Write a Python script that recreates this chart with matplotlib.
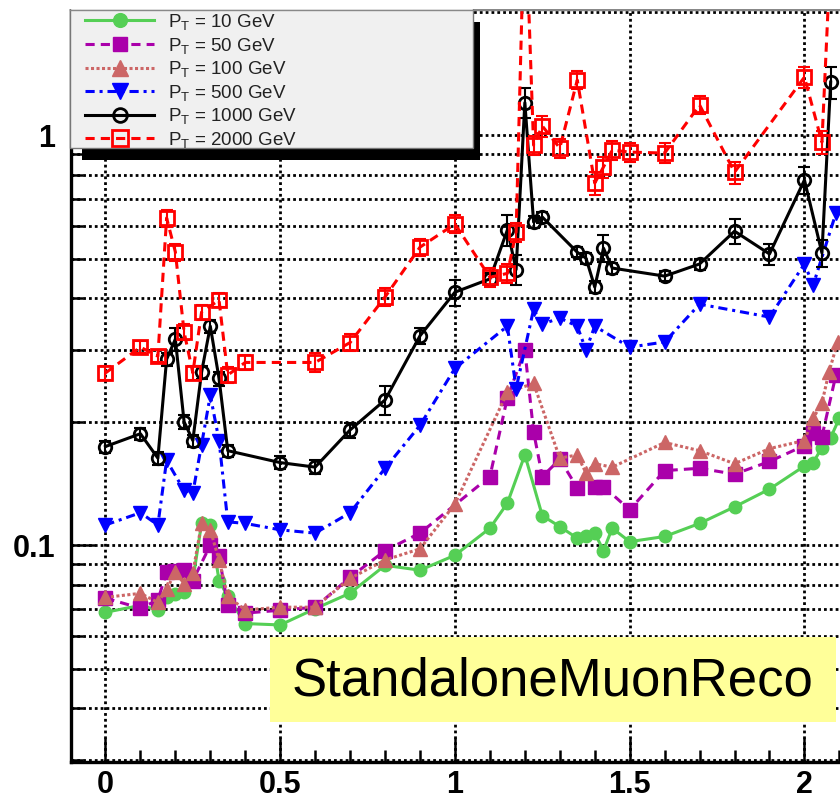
"""
Standalone muon reco: resolution vs eta for several PT values
"""

import matplotlib
matplotlib.use("Agg")
import matplotlib.pyplot as plt
from matplotlib.patches import Rectangle
from matplotlib.lines import Line2D
from matplotlib.ticker import FixedLocator, NullFormatter

plt.rcParams["font.family"] = ["Liberation Sans", "DejaVu Sans"]
plt.rcParams["mathtext.fontset"] = "custom"
plt.rcParams["mathtext.rm"] = "Liberation Sans"
plt.rcParams["mathtext.it"] = "Liberation Sans"

W, H = 840, 801

# ---- data ----
x_10 = [0, 0.1, 0.15, 0.175, 0.2, 0.225, 0.25, 0.275, 0.3, 0.325, 0.35, 0.4, 0.5, 0.6,
        0.7, 0.8, 0.9, 1.0, 1.1, 1.15, 1.2, 1.25, 1.3, 1.35, 1.375, 1.4, 1.425, 1.45,
        1.5, 1.6, 1.7, 1.8, 1.9, 2.0, 2.025, 2.05, 2.075, 2.1]
y_10 = [0.0686, 0.0713, 0.0695, 0.0746, 0.0760, 0.0770, 0.082, 0.113, 0.112, 0.082,
        0.075, 0.0644, 0.0639, 0.070, 0.0764, 0.0893, 0.0869, 0.0945, 0.110, 0.1266,
        0.166, 0.118, 0.111, 0.104, 0.105, 0.107, 0.097, 0.110, 0.102, 0.105, 0.113,
        0.124, 0.137, 0.156, 0.159, 0.173, 0.183, 0.204]

x_50 = [0, 0.1, 0.15, 0.175, 0.2, 0.225, 0.25, 0.3, 0.325, 0.35, 0.4, 0.5, 0.6, 0.7,
        0.8, 0.9, 1.1, 1.15, 1.2, 1.225, 1.25, 1.3, 1.35, 1.4, 1.425, 1.5, 1.6, 1.7,
        1.8, 1.9, 2.0, 2.025, 2.05, 2.09]
y_50 = [0.0743, 0.0702, 0.0735, 0.0859, 0.0865, 0.0869, 0.082, 0.100, 0.094, 0.0714,
        0.0683, 0.0694, 0.0706, 0.0835, 0.097, 0.107, 0.147, 0.229, 0.299, 0.189,
        0.147, 0.162, 0.138, 0.139, 0.139, 0.122, 0.152, 0.154, 0.149, 0.160, 0.175,
        0.188, 0.184, 0.26]

x_100 = [0, 0.1, 0.15, 0.175, 0.2, 0.225, 0.25, 0.275, 0.3, 0.325, 0.35, 0.4, 0.5,
         0.6, 0.7, 0.8, 0.9, 1.0, 1.15, 1.225, 1.3, 1.35, 1.375, 1.4, 1.45, 1.6, 1.7,
         1.8, 1.9, 2.0, 2.025, 2.05, 2.07, 2.095]
y_100 = [0.0746, 0.0763, 0.0725, 0.078, 0.086, 0.0806, 0.0856, 0.113, 0.109, 0.092,
         0.075, 0.0695, 0.0706, 0.0706, 0.083, 0.092, 0.098, 0.126, 0.236, 0.248,
         0.163, 0.166, 0.150, 0.158, 0.155, 0.178, 0.170, 0.158, 0.172, 0.180, 0.204,
         0.222, 0.264, 0.313]

x_500 = [0, 0.1, 0.15, 0.175, 0.225, 0.25, 0.275, 0.3, 0.325, 0.35, 0.4, 0.5, 0.6,
         0.7, 0.8, 0.9, 1.0, 1.15, 1.175, 1.225, 1.25, 1.3, 1.35, 1.375, 1.4, 1.5,
         1.6, 1.7, 1.9, 2.0, 2.025, 2.09]
y_500 = [0.112, 0.120, 0.112, 0.161, 0.136, 0.134, 0.176, 0.232, 0.180, 0.114, 0.113,
         0.109, 0.107, 0.120, 0.154, 0.196, 0.270, 0.342, 0.241, 0.376, 0.346, 0.358,
         0.342, 0.299, 0.342, 0.304, 0.313, 0.387, 0.360, 0.485, 0.431, 0.645]

x_1000 = [0, 0.1, 0.15, 0.175, 0.2, 0.225, 0.25, 0.275, 0.3, 0.325, 0.35, 0.5, 0.6,
          0.7, 0.8, 0.9, 1.0, 1.1, 1.15, 1.175, 1.2, 1.225, 1.25, 1.35, 1.375, 1.4,
          1.425, 1.45, 1.6, 1.7, 1.8, 1.9, 2.0, 2.05, 2.075]
y_1000 = [0.174, 0.187, 0.163, 0.284, 0.318, 0.200, 0.180, 0.264, 0.342, 0.255, 0.170,
          0.159, 0.155, 0.191, 0.226, 0.324, 0.414, 0.446, 0.587, 0.47, 1.20, 0.614,
          0.631, 0.518, 0.501, 0.426, 0.53, 0.474, 0.453, 0.485, 0.583, 0.513, 0.777,
          0.516, 1.347]
e_1000 = [0.006, 0.006, 0.006, 0.01, 0.02, 0.008, 0.006, 0.01, 0.012, 0.01, 0.006,
          0.006, 0.006, 0.008, 0.018, 0.015, 0.03, 0.015, 0.05, 0.04, 0.10, 0.02,
          0.02, 0.015, 0.015, 0.015, 0.04, 0.015, 0.012, 0.015, 0.04, 0.03, 0.06,
          0.04, 0.12]

x_2000 = [0, 0.1, 0.15, 0.175, 0.2, 0.225, 0.25, 0.275, 0.325, 0.35, 0.4, 0.6, 0.7,
          0.8, 0.9, 1.0, 1.1, 1.15, 1.175, 1.2, 1.225, 1.25, 1.3, 1.35, 1.4, 1.425,
          1.45, 1.5, 1.6, 1.7, 1.8, 2.0, 2.05, 2.075]
y_2000 = [0.263, 0.304, 0.289, 0.628, 0.519, 0.331, 0.263, 0.37, 0.396, 0.26, 0.279,
          0.279, 0.312, 0.403, 0.533, 0.607, 0.45, 0.46, 0.58, 3.8, 0.945, 1.052,
          0.93, 1.362, 0.764, 0.836, 0.919, 0.909, 0.904, 1.184, 0.812, 1.385, 0.961,
          2.8]
e_2000 = [0.01, 0.01, 0.01, 0.03, 0.025, 0.015, 0.01, 0.015, 0.015, 0.012, 0.012,
          0.015, 0.015, 0.02, 0.025, 0.03, 0.025, 0.025, 0.03, 0.2, 0.05, 0.06,
          0.05, 0.07, 0.05, 0.05, 0.05, 0.05, 0.05, 0.06, 0.05, 0.08, 0.06, 0.2]

labels = [r"P$_{\mathrm{T}}$ = 10 GeV", r"P$_{\mathrm{T}}$ = 50 GeV",
          r"P$_{\mathrm{T}}$ = 100 GeV", r"P$_{\mathrm{T}}$ = 500 GeV",
          r"P$_{\mathrm{T}}$ = 1000 GeV", r"P$_{\mathrm{T}}$ = 2000 GeV"]


def fx(px):
    return px / W


def fy(py):
    # pixel row from the top -> figure fraction
    return 1 - py / H


fig = plt.figure(figsize=(W / 100, H / 100), dpi=100)
# axes: left edge at x=70px, bottom at y=762px, top at y=9px, runs off the right
ax = fig.add_axes([fx(70.5), fy(762), 2.3 * 349.5 / W, (762 - 9) / H])
ax.set_yscale("log")
ax.set_xlim(-0.1, 2.2)
ax.set_ylim(0.0296, 2.03)

# series, drawn in legend order
l10, = ax.plot(x_10, y_10, color="#55cf55", lw=2.2, ls="-", marker="o", ms=9,
               mec="#55cf55", mfc="#55cf55", zorder=3)
l50, = ax.plot(x_50, y_50, color="#aa00aa", lw=2.2, ls=(0, (3, 2)), marker="s",
               ms=9.5, mec="#aa00aa", mfc="#aa00aa", zorder=3)
l100, = ax.plot(x_100, y_100, color="#cc6666", lw=2.2, ls=(0, (1, 0.8)), marker="^",
                ms=10, mec="#cc6666", mfc="#cc6666", zorder=3)
l500, = ax.plot(x_500, y_500, color="#0000ff", lw=2.2, ls=(0, (3, 1.6, 1, 1.6)),
                marker="v", ms=10, mec="#0000ff", mfc="#0000ff", zorder=3)
ax.errorbar(x_1000, y_1000, yerr=e_1000, fmt="none", ecolor="black", elinewidth=1.5,
            capsize=4, capthick=1.5, zorder=3)
l1000, = ax.plot(x_1000, y_1000, color="black", lw=2.2, ls="-", marker="o", ms=9,
                 mec="black", mfc="none", mew=2, zorder=3)
ax.errorbar(x_2000, y_2000, yerr=e_2000, fmt="none", ecolor="red", elinewidth=1.5,
            capsize=4, capthick=1.5, zorder=3)
l2000, = ax.plot(x_2000, y_2000, color="red", lw=2.2, ls=(0, (3, 2)), marker="s",
                 ms=10, mec="red", mfc="none", mew=2, zorder=3)

# ticks and grid
ax.xaxis.set_major_locator(FixedLocator([0, 0.5, 1, 1.5, 2]))
ax.xaxis.set_minor_locator(FixedLocator([-0.1, 0.1, 0.2, 0.3, 0.4, 0.6, 0.7, 0.8, 0.9,
                                         1.1, 1.2, 1.3, 1.4, 1.6, 1.7, 1.8, 1.9, 2.1]))
ax.set_xticklabels(["0", "0.5", "1", "1.5", "2"])
ax.yaxis.set_major_locator(FixedLocator([0.1, 1]))
ax.set_yticklabels(["0.1", "1"])
ax.yaxis.set_minor_locator(FixedLocator([0.03, 0.04, 0.05, 0.06, 0.07, 0.08, 0.09,
                                         0.2, 0.3, 0.4, 0.5, 0.6, 0.7, 0.8, 0.9, 2]))
ax.yaxis.set_minor_formatter(NullFormatter())
ax.tick_params(which="major", direction="in", length=17, width=1.8, labelsize=22)
ax.tick_params(axis="x", which="major", pad=6)
ax.tick_params(axis="y", which="major", pad=11)
ax.tick_params(which="minor", direction="in", length=8.5, width=1.8)
for lab in ax.get_xticklabels() + ax.get_yticklabels():
    lab.set_fontweight("bold")

grid_kw = dict(color="black", lw=2.0, ls=(0, (1.0, 1.1)))
ax.grid(True, axis="x", which="major", **grid_kw)
ax.grid(True, axis="y", which="both", **grid_kw)
ax.set_axisbelow(True)

for side in ["left", "bottom"]:
    ax.spines[side].set_linewidth(2.4)
ax.spines["top"].set_linewidth(1)
ax.spines["top"].set_color("#888888")

# legend: shadow + grey box drawn by hand, entries via fig.legend
fig.patches.append(Rectangle((fx(82), fy(160)), fx(480) - fx(82), fy(22) - fy(160),
                             transform=fig.transFigure, facecolor="black",
                             edgecolor="none", zorder=2))
fig.patches.append(Rectangle((fx(70), fy(148)), fx(473) - fx(70), fy(-20) - fy(148),
                             transform=fig.transFigure, facecolor="#f0f0f0",
                             edgecolor="#777777", lw=1, zorder=3))
fig.legend([l10, l50, l100, l500, l1000, l2000], labels, loc="upper left",
           bbox_to_anchor=(fx(85), fy(12)), bbox_transform=fig.transFigure,
           frameon=False, fontsize=13.5, handlelength=3.7, handletextpad=0.7,
           labelspacing=0.19, borderpad=0, borderaxespad=0, numpoints=1,
           markerscale=1.1, labelcolor="#222222").set_zorder(5)

# white band above the frame, with the frame line
fig.patches.append(Rectangle((0, fy(9)), 1, 1 - fy(9), transform=fig.transFigure,
                             facecolor="white", edgecolor="none", zorder=10))
fig.lines.append(Line2D([fx(70), 1], [fy(9.5), fy(9.5)], transform=fig.transFigure,
                        color="#888888", lw=1, zorder=11))

# label box
fig.patches.append(Rectangle((fx(270), fy(722)), fx(836) - fx(270), fy(637) - fy(722),
                             transform=fig.transFigure, facecolor="#ffff99",
                             edgecolor="none", zorder=4))
fig.text(fx(553), fy(681), "StandaloneMuonReco", ha="center", va="center",
         fontsize=38, color="black", zorder=6)

fig.savefig("out.png", dpi=100)
